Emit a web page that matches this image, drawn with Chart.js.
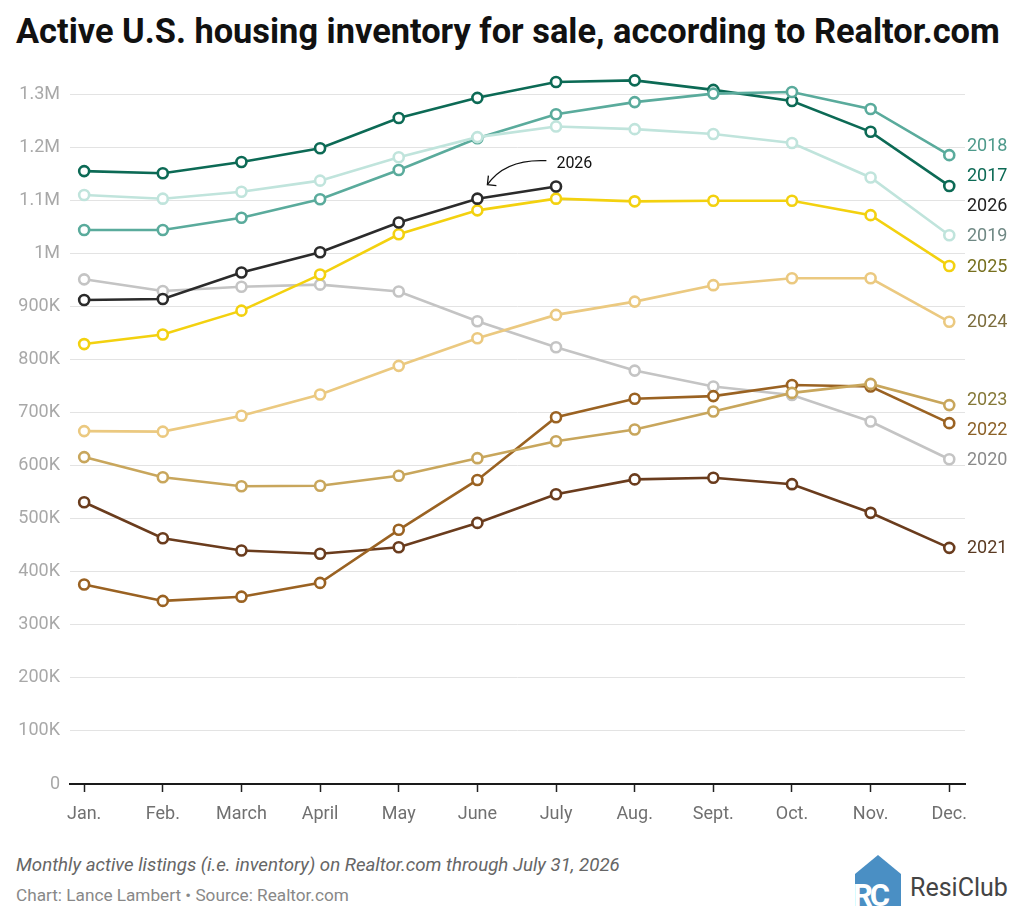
<!DOCTYPE html>
<html>
<head>
<meta charset="utf-8">
<script src="https://cdn.jsdelivr.net/npm/chart.js@4.4.1/dist/chart.umd.min.js"></script>
<style>
  html, body { margin:0; padding:0; background:#fff; width:1024px; height:921px; overflow:hidden; font-family: Roboto, "Noto Sans", sans-serif; }
  #title { position:absolute; left:16px; top:11px; font-size:34.4px; font-weight:700; color:#111; white-space:nowrap; }
  #wrap { position:absolute; left:0; top:60px; width:1024px; height:780px; }
  #note { position:absolute; left:16px; top:854px; font-size:18.7px; font-style:italic; color:#666; white-space:nowrap; }
  #src { position:absolute; left:16px; top:885px; font-size:17.2px; color:#888; white-space:nowrap; }
  #logo { position:absolute; left:850px; top:852px; }
</style>
</head>
<body>
<div id="title">Active U.S. housing inventory for sale, according to Realtor.com</div>
<div id="wrap"><canvas id="c"></canvas></div>
<div id="note">Monthly active listings (i.e. inventory) on Realtor.com through July 31, 2026</div>
<div id="src">Chart: Lance Lambert • Source: Realtor.com</div>
<svg id="logo" width="174" height="60" viewBox="0 0 174 60">
  <polygon points="28,3 51,22 51,54 5,54 5,22" fill="#4a8fc4"/>
  <text x="3" y="54" font-family="Roboto" font-weight="700" font-size="31" fill="#fff" letter-spacing="-3">RC</text>
  <text x="60" y="44" font-family="Roboto" font-size="25" fill="#444">ResiClub</text>
</svg>
<script>
const months = ["Jan.","Feb.","March","April","May","June","July","Aug.","Sept.","Oct.","Nov.","Dec."];
const yTicks = [0,100000,200000,300000,400000,500000,600000,700000,800000,900000,1000000,1100000,1200000,1300000];

const y2017 = [1155000,1151000,1172000,1198000,1255000,1293000,1323000,1326000,1308000,1287000,1229000,1127000];
const y2018 = [1044000,1044000,1067000,1102000,1157000,1217000,1262000,1285000,1301000,1304000,1272000,1185000];
const y2019 = [1110000,1103000,1116000,1137000,1181000,1219000,1239000,1234000,1225000,1208000,1143000,1034000];
const y2020 = [951000,929000,937000,941000,928000,872000,823000,779000,749000,733000,683000,612000];
const y2021 = [531000,463000,440000,434000,446000,492000,546000,574000,577000,565000,511000,445000];
const y2022 = [376000,345000,353000,379000,479000,573000,691000,726000,731000,752000,749000,680000];
const y2023 = [616000,578000,561000,562000,581000,614000,646000,668000,702000,737000,754000,714000];
const y2024 = [665000,664000,694000,734000,788000,840000,884000,909000,940000,953000,953000,871000];
const y2025 = [829000,847000,892000,960000,1036000,1081000,1103000,1098000,1099000,1099000,1072000,976000];
const y2026 = [912000,914000,964000,1002000,1058000,1103000,1126000];

const seriesNames  = ["2026","2025","2024","2023","2022","2021","2020","2019","2018","2017"];
const seriesValues = [y2026,y2025,y2024,y2023,y2022,y2021,y2020,y2019,y2018,y2017];
const lineColors   = ["#2b2b2b","#f3d10f","#ebc980","#c8a65c","#9a6222","#6a3c1d","#c4c4c4","#c0e4dc","#5aab9c","#0c6a55"];
const labelColors  = ["#222222","#77701f","#7b6c3c","#857838","#8c6128","#5a3a22","#8a8a8a","#6f8884","#4e9a8b","#0c6a55"];

function fmt(v){
  if (v === 0) return "0";
  if (v >= 1000000) return (v/1000000).toString().replace(/\.0$/,"") + "M";
  return (v/1000) + "K";
}

const endLabels = {
  id:'endLabels',
  afterDatasetsDraw(chart){
    const ctx = chart.ctx, ys = chart.scales.y, xs = chart.scales.x;
    const gap = 30;
    let items = chart.data.datasets.map((d,i)=>{
      const last = d.data[d.data.length-1];
      return {name:seriesNames[i], color:labelColors[i], want: ys.getPixelForValue(last.y)};
    }).sort((a,b)=>a.want-b.want);
    let clusters = items.map(it=>({items:[it]}));
    const place = c => {
      const mean = c.items.reduce((s,it)=>s+it.want,0)/c.items.length;
      c.top = mean - (c.items.length-1)*gap/2;
      c.bottom = c.top + (c.items.length-1)*gap;
    };
    clusters.forEach(place);
    let merged = true;
    while (merged){
      merged = false;
      for (let i=1;i<clusters.length;i++){
        if (clusters[i].top < clusters[i-1].bottom + gap){
          clusters[i-1].items = clusters[i-1].items.concat(clusters[i].items);
          clusters.splice(i,1);
          place(clusters[i-1]);
          merged = true; break;
        }
      }
    }
    ctx.save();
    ctx.font = '18px Roboto';
    ctx.textAlign = 'left';
    ctx.textBaseline = 'middle';
    const x = chart.chartArea.right + 2;
    clusters.forEach(c=>{
      c.items.forEach((it,k)=>{
        ctx.fillStyle = it.color;
        ctx.fillText(it.name, x, c.top + k*gap + 1);
      });
    });
    // annotation for 2026
    const px = xs.getPixelForValue(5), py = ys.getPixelForValue(y2026[5]);
    const sx = px + 69, sy = py - 38, tx = px + 10, ty = py - 14;
    ctx.strokeStyle = '#111'; ctx.lineWidth = 1.3;
    ctx.beginPath();
    ctx.moveTo(sx, sy);
    ctx.quadraticCurveTo(px + 28, sy - 2, tx, ty);
    ctx.stroke();
    ctx.beginPath();
    ctx.moveTo(tx + 1, ty - 9);
    ctx.lineTo(tx, ty);
    ctx.lineTo(tx + 9, ty + 1);
    ctx.stroke();
    ctx.fillStyle = '#111';
    ctx.font = '16px Roboto';
    ctx.fillText('2026', sx + 10, sy + 3);
    ctx.restore();
  }
};

Chart.defaults.font.family = 'Roboto';

new Chart(document.getElementById('c'), {
  type:'line',
  data:{
    datasets: seriesValues.map((vals,i)=>({
      label: seriesNames[i],
      data: vals.map((v,j)=>({x:j,y:v})),
      borderColor: lineColors[i],
      backgroundColor: '#fff',
      pointBackgroundColor: '#fff',
      pointBorderColor: lineColors[i],
      pointRadius: 5,
      pointBorderWidth: 2.6,
      borderWidth: 2.6,
      tension: 0,
      clip: false
    }))
  },
  options:{
    responsive:true, maintainAspectRatio:false, animation:false,
    layout:{ padding:{ top:6.5, right:59, left:0, bottom:0 } },
    plugins:{ legend:{display:false}, tooltip:{enabled:false}, title:{display:false} },
    scales:{
      x:{
        type:'linear', min:-0.18, max:11.2,
        afterFit: s => { s.height = 56; s.paddingLeft = 0; s.paddingRight = 0; },
        afterBuildTicks: s => { s.ticks = months.map((m,i)=>({value:i})); },
        ticks:{ callback:(v)=>months[v], color:'#707070', font:{size:18}, padding:12, maxRotation:0, autoSkip:false },
        grid:{ drawOnChartArea:false, drawTicks:true, tickLength:8, tickColor:'#222', tickWidth:1.5 },
        border:{ display:true, color:'#1a1a1a', width:2 }
      },
      y:{
        min:0, max:1350000,
        afterFit: s => { s.width = 70; s.paddingTop = 0; s.paddingBottom = 0; },
        afterBuildTicks: s => { s.ticks = yTicks.map(v=>({value:v})); },
        ticks:{ callback:(v)=>fmt(v), color:'#a8a8a8', font:{size:18}, padding:10 },
        grid:{ color:'#e3e3e3', lineWidth:1, drawTicks:false },
        border:{ display:false }
      }
    }
  },
  plugins:[endLabels]
});
</script>
</body>
</html>
